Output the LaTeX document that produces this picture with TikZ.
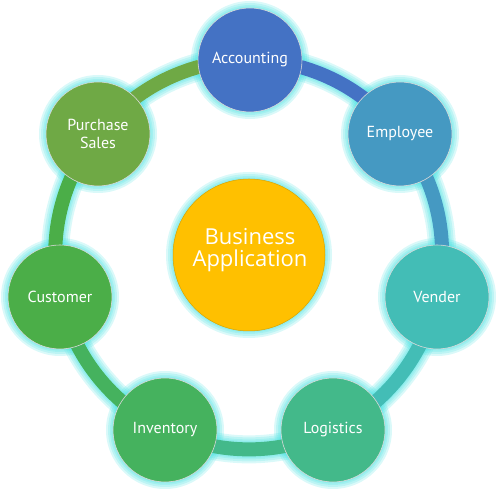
\documentclass[tikz,border=0pt]{standalone}
\usepackage{fontspec}
\setmainfont{PT Sans}
\newfontfamily\hubfont{Open Sans}
\usetikzlibrary{positioning}

\definecolor{accblue}{RGB}{68,114,196}
\definecolor{empblue}{RGB}{69,153,194}
\definecolor{venteal}{RGB}{67,189,182}
\definecolor{logteal}{RGB}{67,185,138}
\definecolor{invgreen}{RGB}{69,178,94}
\definecolor{cusgreen}{RGB}{75,174,72}
\definecolor{purgreen}{RGB}{111,169,69}
\definecolor{hubgold}{RGB}{255,192,0}
\definecolor{glowc}{RGB}{70,225,225}

\pgfdeclarelayer{glow}
\pgfdeclarelayer{band}
\pgfsetlayers{glow,band,main}

\begin{document}
\begin{tikzpicture}[
    x=1pt, y=1pt,
    % Outer ring circles
    unit/.style={
        circle, minimum size=104pt, inner sep=0pt,
        draw=white!85!black, line width=0.6pt,
        text=white, align=center,
        font=\fontsize{16}{18.5}\selectfont
    },
    % Center circle
    hub/.style={
        circle, minimum size=152pt, inner sep=0pt,
        fill=hubgold, draw=hubgold!85!black, line width=0.5pt
    },
    % Center text
    hubtxt/.style={
        text=white, align=center,
        font=\hubfont\fontsize{22}{22}\selectfont
    },
    % Ring segments
    band/.style={line width=14pt, looseness=0.9},
    % Soft halo
    haze/.style={glowc, opacity=0.2},
]
\useasboundingbox (0,0) rectangle (500,497);

% ===== CENTER =====
\node[hub] (hub) at (249,242) {};
\node[hubtxt] (hubtext) at (250,247) {Business\\Application};

% ===== RING NODES =====
\node[unit, fill=accblue] (acc) at (250,437) {Accounting};
\node[unit, fill=empblue] (emp) at (400,363) {Employee};
\node[unit, fill=venteal] (ven) at (437,200) {Vender};
\node[unit, fill=logteal] (log) at (333,67) {Logistics};
\node[unit, fill=invgreen] (inv) at (165,67) {Inventory};
\node[unit, fill=cusgreen] (cus) at (60,200) {Customer};
\node[unit, fill=purgreen] (pur) at (98,363) {Purchase\\Sales};

% ===== RING SEGMENTS =====
\begin{pgfonlayer}{band}
\draw[band, accblue] (acc.center) to[bend left=26] (emp.center);
\draw[band, empblue] (emp.center) to[bend left=26] (ven.center);
\draw[band, venteal] (ven.center) to[bend left=26] (log.center);
\draw[band, logteal] (log.center) to[bend left=26] (inv.center);
\draw[band, invgreen] (inv.center) to[bend left=26] (cus.center);
\draw[band, cusgreen] (cus.center) to[bend left=26] (pur.center);
\draw[band, purgreen] (pur.center) to[bend left=26] (acc.center);
\end{pgfonlayer}

% ===== GLOW =====
\begin{pgfonlayer}{glow}
\foreach \a/\b in {acc/emp, emp/ven, ven/log, log/inv, inv/cus, cus/pur, pur/acc} {
    \draw[haze, line width=28pt, looseness=0.9] (\a.center) to[bend left=26] (\b.center);
    \draw[haze, line width=24pt, looseness=0.9] (\a.center) to[bend left=26] (\b.center);
    \draw[haze, line width=20pt, looseness=0.9] (\a.center) to[bend left=26] (\b.center);
    \draw[haze, line width=17pt, looseness=0.9] (\a.center) to[bend left=26] (\b.center);
}
\foreach \n in {acc, emp, ven, log, inv, cus, pur} {
    \fill[haze] (\n.center) circle (59);
    \fill[haze] (\n.center) circle (57);
    \fill[haze] (\n.center) circle (55);
    \fill[haze] (\n.center) circle (53.5);
}
\fill[haze] (hub.center) circle (83);
\fill[haze] (hub.center) circle (81);
\fill[haze] (hub.center) circle (79);
\fill[haze] (hub.center) circle (77.5);
\end{pgfonlayer}

\end{tikzpicture}
\end{document}
